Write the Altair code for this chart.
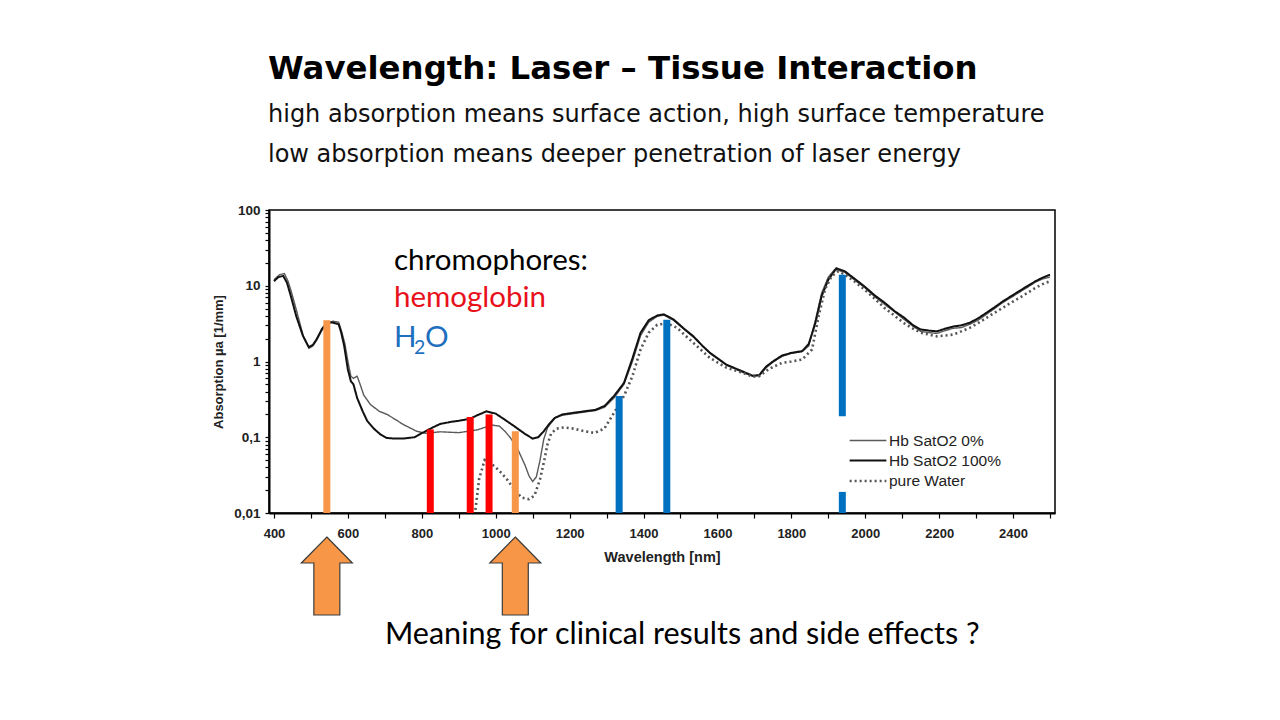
import altair as alt
import pandas as pd

# ---------------- data ----------------
hb0_wl = [400, 415, 428, 438, 448, 462, 480, 495, 505, 515, 530, 545, 560, 575, 583, 592, 600, 608, 615, 625,
          633, 643, 661, 685, 706, 730, 750, 786, 810, 850, 900, 950, 990, 1010, 1025, 1040, 1060, 1080, 1090,
          1100, 1110, 1120, 1130, 1140, 1160, 1180, 1210, 1240, 1270, 1295, 1320, 1347, 1370, 1392, 1414, 1437,
          1455, 1481, 1510, 1535, 1560, 1580, 1624, 1668, 1695, 1713, 1731, 1750, 1775, 1800, 1829, 1847, 1865,
          1882, 1900, 1918, 1945, 1970, 1998, 2025, 2052, 2080, 2105, 2130, 2150, 2175, 2194, 2215, 2239, 2260,
          2283, 2305, 2328, 2350, 2372, 2395, 2417, 2440, 2461, 2480, 2500]
hb0_val = [12, 14, 14.5, 11.5, 8, 4.5, 2.1, 1.5, 1.6, 1.9, 2.6, 3.2, 3.4, 3.3, 2.5, 1.7, 1.0, 0.64, 0.6, 0.64,
           0.5, 0.36, 0.27, 0.22, 0.2, 0.17, 0.147, 0.12, 0.113, 0.118, 0.115, 0.125, 0.145, 0.14, 0.12, 0.098,
           0.069, 0.042, 0.031, 0.026, 0.03, 0.05, 0.094, 0.133, 0.18, 0.195, 0.205, 0.215, 0.225, 0.25, 0.33,
           0.5, 1.0, 2.2, 3.3, 3.95, 4.1, 3.5, 2.65, 2.1, 1.6, 1.28, 0.9, 0.72, 0.64, 0.65, 0.82, 0.98, 1.17,
           1.28, 1.35, 1.6, 3.5, 8, 13, 16.5, 15, 12, 9.5, 7.2, 5.7, 4.5, 3.6, 2.9, 2.5, 2.4, 2.35, 2.55, 2.75,
           2.8, 3.1, 3.5, 4.2, 5, 6, 7, 8.2, 9.6, 11.2, 12.3, 13]

hb100_wl = [400, 412, 425, 435, 445, 460, 478, 494, 505, 515, 530, 540, 555, 565, 575, 582, 590, 600, 608, 615,
            625, 640, 652, 670, 688, 705, 725, 750, 780, 800, 830, 850, 880, 900, 930, 950, 975, 1000, 1025, 1050,
            1080, 1100, 1115, 1130, 1145, 1160, 1180, 1210, 1240, 1270, 1295, 1320, 1347, 1370, 1392, 1414, 1437,
            1455, 1481, 1510, 1535, 1560, 1580, 1624, 1668, 1695, 1713, 1731, 1750, 1775, 1800, 1829, 1847, 1865,
            1882, 1900, 1922, 1945, 1970, 1998, 2025, 2052, 2080, 2105, 2130, 2150, 2175, 2194, 2215, 2239, 2260,
            2283, 2305, 2328, 2350, 2372, 2395, 2417, 2440, 2461, 2480, 2500]
hb100_val = [11.5, 13, 13.5, 11, 7.5, 4.0, 2.2, 1.55, 1.65, 1.95, 2.7, 3.1, 3.3, 3.2, 3.1, 2.4, 1.6, 0.78, 0.55,
             0.5, 0.33, 0.22, 0.165, 0.13, 0.109, 0.098, 0.096, 0.096, 0.1, 0.113, 0.135, 0.15, 0.16, 0.165,
             0.175, 0.195, 0.22, 0.205, 0.17, 0.14, 0.11, 0.096, 0.1, 0.12, 0.15, 0.18, 0.2, 0.21, 0.22, 0.23,
             0.26, 0.35, 0.52, 1.1, 2.4, 3.5, 4.05, 4.2, 3.6, 2.7, 2.15, 1.6, 1.3, 0.91, 0.74, 0.65, 0.66, 0.85,
             1.0, 1.2, 1.3, 1.37, 1.7, 3.2, 7.3, 12, 17, 15.5, 12.5, 9.8, 7.5, 6.0, 4.6, 3.8, 3.0, 2.65, 2.55,
             2.5, 2.7, 2.9, 3.0, 3.25, 3.7, 4.4, 5.2, 6.2, 7.3, 8.5, 10, 11.5, 12.8, 14]

water_wl = [945, 955, 970, 990, 1010, 1030, 1050, 1070, 1090, 1105, 1120, 1130, 1140, 1150, 1165, 1185, 1210,
            1240, 1267, 1294, 1320, 1347, 1370, 1392, 1414, 1437, 1463, 1490, 1535, 1579, 1624, 1668, 1695, 1713,
            1740, 1775, 1800, 1829, 1856, 1874, 1891, 1909, 1927, 1945, 1970, 1998, 2025, 2052, 2080, 2105, 2130,
            2150, 2175, 2194, 2215, 2239, 2260, 2283, 2305, 2328, 2350, 2372, 2395, 2417, 2440, 2461, 2480, 2500]
water_val = [0.011, 0.028, 0.05, 0.044, 0.036, 0.028, 0.0205, 0.016, 0.0152, 0.017, 0.028, 0.046, 0.08, 0.112,
             0.13, 0.135, 0.13, 0.12, 0.114, 0.13, 0.21, 0.35, 0.64, 1.44, 2.4, 3.05, 3.2, 2.8, 1.76, 1.12, 0.83,
             0.71, 0.63, 0.64, 0.8, 0.96, 1.0, 1.06, 1.44, 4.0, 8.9, 13.4, 15.5, 14, 11.5, 8.9, 6.8, 5.1, 4.0,
             3.2, 2.7, 2.4, 2.25, 2.15, 2.2, 2.27, 2.5, 2.78, 3.2, 3.77, 4.4, 5.1, 6, 6.9, 8.1, 9.4, 10.5, 11.5]

series_names = ["Hb SatO2 0%", "Hb SatO2 100%", "pure Water"]

bar_wl = [543, 823, 931, 982, 1053, 1334, 1463, 1938, 1938]
bar_lo = [0.01, 0.01, 0.01, 0.01, 0.01, 0.01, 0.01, 0.19, 0.01]
bar_hi = [3.5, 0.127, 0.185, 0.2, 0.12, 0.35, 3.55, 14, 0.019]
bar_kind = ["laser", "hemoglobin", "hemoglobin", "hemoglobin", "laser", "water", "water", "water", "water"]
kind_colors = {"laser": "#F79646", "hemoglobin": "#FF0000", "water": "#0070C0"}

title_text = "Wavelength: Laser \u2013 Tissue Interaction"
sub_lines = ["high absorption means surface action, high surface temperature",
             "low absorption means deeper penetration of laser energy"]
bottom_text = "Meaning for clinical results and side effects ?"

# ---------------- tables ----------------
lines_df = pd.concat([
    pd.DataFrame({"wl": hb0_wl, "val": hb0_val, "series": series_names[0]}),
    pd.DataFrame({"wl": hb100_wl, "val": hb100_val, "series": series_names[1]}),
    pd.DataFrame({"wl": water_wl, "val": water_val, "series": series_names[2]}),
], ignore_index=True)

bars_df = pd.DataFrame({"wl": bar_wl, "val": bar_hi, "lo": bar_lo,
                        "fillc": [kind_colors[k] for k in bar_kind]})
arrows_df = bars_df[[k == "laser" for k in bar_kind]]

y_minor = [round(m * 10 ** e, 4) for e in range(-2, 2) for m in range(1, 10)] + [100]

x_enc = alt.X("wl:Q", scale=alt.Scale(domain=[400, 2500], nice=False, zero=False),
              axis=alt.Axis(values=list(range(400, 2501, 100)), format="d", labelFlush=False,
                            labelExpr="datum.value % 200 == 0 ? datum.label : ''",
                            title="Wavelength [nm]", tickSize=5, labelPadding=9,
                            labelFontSize=13, titleFontSize=14.5, titlePadding=10))
y_enc = alt.Y("val:Q", scale=alt.Scale(type="log", domain=[0.01, 100], nice=False),
              axis=alt.Axis(values=y_minor, labelFlush=False,
                            labelExpr="datum.value == 0.01 ? '0,01' : datum.value == 0.1 ? '0,1' : "
                                      "(datum.value == 1 || datum.value == 10 || datum.value == 100) ? "
                                      "format(datum.value, 'd') : ''",
                            title="Absorption \u00b5a [1/mm]", tickSize=4, labelPadding=5,
                            labelFontSize=13.5, titleFontSize=13, titlePadding=8))

leg = alt.Legend(title=None, orient="none", legendX=587, legendY=219, symbolType="M-1.75,0H1.75",
                 symbolSize=441, labelFontSize=15.5, labelFont="Liberation Sans", labelColor="#222222",
                 rowPadding=0, labelOffset=9)

lines = alt.Chart(lines_df).mark_line(clip=True).encode(
    x=x_enc, y=y_enc,
    stroke=alt.Stroke("series:N", scale=alt.Scale(domain=series_names,
                                                  range=["#5a5a5a", "#111111", "#555555"]), legend=leg),
    strokeWidth=alt.StrokeWidth("series:N", scale=alt.Scale(domain=series_names, range=[1.4, 2.6, 1.5]),
                                legend=leg),
    strokeDash=alt.StrokeDash("series:N", scale=alt.Scale(domain=series_names,
                                                          range=[[1, 0], [1, 0], [2, 3]]), legend=leg),
)

bars = alt.Chart(bars_df).mark_bar(size=7).encode(
    x=x_enc, y=y_enc, y2="lo:Q",
    fill=alt.Fill("fillc:N", scale=None),
)

arrow_path = "M0,-1 L0.654,-0.333 L0.333,-0.333 L0.333,1 L-0.333,1 L-0.333,-0.333 L-0.654,-0.333 Z"
arrows = alt.Chart(arrows_df).mark_point(shape=arrow_path, filled=True, size=6084, fill="#F79646",
                                          stroke="#3c3c3c", strokeWidth=1.2, opacity=1).encode(
    x=x_enc, y=alt.value(366)
)


def txt(s, x, y, size, font, color="#111111", weight="normal"):
    return alt.Chart(pd.DataFrame({"t": [s]})).mark_text(
        align="left", baseline="alphabetic", fontSize=size, font=font, color=color, fontWeight=weight
    ).encode(text="t:N", x=alt.value(x), y=alt.value(y))


texts = [
    txt(title_text, -1, -131, 32.4, "DejaVu Sans", "#000000", "bold"),
    txt(sub_lines[0], -1, -88, 24, "DejaVu Sans", "#111111"),
    txt(sub_lines[1], -1, -48, 24, "DejaVu Sans", "#111111"),
    txt("chromophores:", 125, 60, 29.5, "Lato", "#000000"),
    txt("hemoglobin", 125, 97, 29.5, "Lato", "#E8101A"),
    txt("H", 125, 137, 29.5, "Lato", "#1F6FBF"),
    txt("2", 145, 144, 19.5, "Lato", "#1F6FBF"),
    txt("O", 156, 137, 29.5, "Lato", "#1F6FBF"),
    txt(bottom_text, 116, 434, 30.5, "Lato", "#000000"),
]

chart = alt.layer(lines, bars, arrows, *texts).properties(
    width=786, height=303,
    padding={"left": 261, "top": 202, "right": 200, "bottom": 170},
    autosize="none", background="white",
).configure_view(stroke="black", strokeWidth=1.5).configure_axis(
    domainColor="black", domainWidth=2, tickColor="black", tickWidth=1.2, grid=False,
    labelFont="Liberation Sans", labelFontWeight="bold", labelColor="#222222",
    titleFont="Liberation Sans", titleFontWeight="bold", titleColor="#222222",
)

chart.save("out.html", embed_options={"renderer": "svg", "actions": False})
